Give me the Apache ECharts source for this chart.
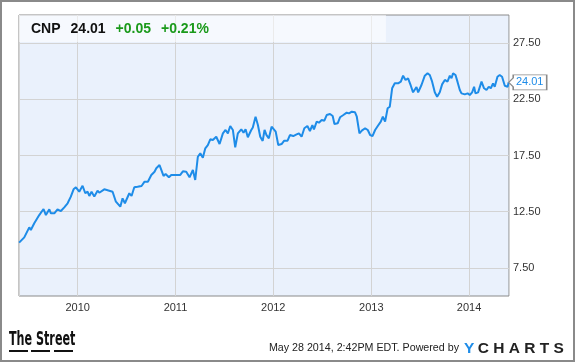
<!DOCTYPE html>
<html><head><meta charset="utf-8">
<style>html,body{margin:0;padding:0;background:#fff}#c{width:575px;height:362px}</style>
<script src="https://cdn.jsdelivr.net/npm/echarts@6/dist/echarts.min.js"></script>
</head><body><div id="c"></div>
<script>
// decimal-year positions and closing prices
const years = [2009.401,2009.454,2009.505,2009.521,2009.556,2009.607,2009.651,2009.675,2009.692,2009.710,2009.726,2009.761,2009.794,2009.828,2009.863,2009.897,2009.930,2009.958,2009.982,
2010.016,2010.050,2010.078,2010.101,2010.119,2010.142,2010.170,2010.203,2010.221,2010.272,2010.323,2010.357,2010.391,2010.408,2010.436,2010.459,2010.483,2010.528,2010.551,2010.579,2010.612,2010.653,2010.684,2010.718,2010.753,2010.786,2010.804,2010.837,2010.855,2010.878,2010.899,2010.933,2010.957,
2011.008,2011.049,2011.076,2011.110,2011.144,2011.178,2011.202,2011.229,2011.254,2011.280,2011.305,2011.331,2011.356,2011.382,2011.417,2011.451,2011.485,2011.512,2011.536,2011.560,2011.587,2011.611,2011.638,2011.673,2011.696,2011.717,2011.740,2011.775,2011.791,2011.819,2011.843,2011.867,2011.892,2011.911,2011.931,2011.955,2011.983,
2012.000,2012.025,2012.051,2012.085,2012.112,2012.146,2012.170,2012.204,2012.238,2012.262,2012.289,2012.317,2012.348,2012.374,2012.399,2012.415,2012.443,2012.466,2012.494,2012.521,2012.545,2012.579,2012.606,2012.624,2012.657,2012.681,2012.715,2012.749,2012.773,2012.801,2012.834,2012.852,2012.879,2012.903,2012.937,2012.964,2012.988,
2013.012,2013.039,2013.066,2013.097,2013.118,2013.141,2013.167,2013.189,2013.213,2013.240,2013.274,2013.302,2013.325,2013.350,2013.376,2013.404,2013.427,2013.445,2013.462,2013.479,2013.513,2013.547,2013.575,2013.598,2013.622,2013.649,2013.673,2013.700,2013.724,2013.752,2013.779,2013.803,2013.820,2013.836,2013.861,2013.881,2013.905,2013.922,2013.939,2013.956,2013.985,
2014.007,2014.031,2014.051,2014.065,2014.092,2014.127,2014.153,2014.178,2014.201,2014.222,2014.245,2014.262,2014.290,2014.313,2014.337,2014.365,2014.394,2014.405];
const prices = [9.75,10.22,11.11,10.87,11.47,12.20,12.74,12.20,12.30,12.71,12.36,12.36,12.71,12.56,12.89,13.25,13.84,14.49,14.67,
14.28,14.81,14.14,14.28,13.90,14.28,13.84,14.37,14.19,14.49,14.37,14.28,13.39,13.54,12.95,13.69,13.25,14.14,13.90,14.67,14.72,14.79,15.17,15.17,15.77,16.06,16.36,16.65,16.50,15.68,15.85,15.56,15.77,
15.77,15.77,16.09,16.06,15.56,16.21,15.32,17.39,17.69,17.30,18.14,18.43,18.94,18.88,19.17,18.52,19.47,19.77,19.47,20.12,19.77,18.23,19.47,19.83,19.53,19.83,19.12,19.77,20.00,20.95,20.21,19.17,18.80,19.77,19.32,19.03,20.06,
20.21,19.62,18.43,18.52,18.82,18.82,19.32,19.23,19.38,19.47,19.17,19.92,20.12,19.68,20.21,19.83,20.51,20.42,20.66,20.60,21.10,21.19,21.01,20.30,20.36,20.90,21.10,21.31,21.25,21.40,21.34,20.95,19.47,19.71,19.92,19.77,19.32,
19.23,19.77,20.12,20.51,20.95,20.51,21.70,21.84,23.48,23.92,23.92,24.07,24.60,24.22,24.37,23.71,23.12,23.18,23.59,23.12,23.77,24.60,24.81,24.66,24.07,23.12,22.73,23.12,23.83,24.22,24.07,24.60,24.37,24.81,24.66,24.07,23.33,23.03,23.18,22.94,23.03,
22.88,23.12,23.62,23.03,23.12,24.07,23.48,23.33,23.62,23.48,23.92,23.62,24.51,24.66,24.51,23.71,23.62,24.01];
const yTicks = [7.5, 12.5, 17.5, 22.5, 27.5];
const xRange = [2009.400, 2014.408];
const ticker = 'CNP', lastPrice = '24.01', change = '+0.05', changePct = '+0.21%';

function toTime(d){ const y=Math.floor(d); const s=Date.UTC(y,0,1), e=Date.UTC(y+1,0,1); return s+(d-y)*(e-s); }
const seriesData = years.map((y,i)=>[toTime(y), prices[i]]);
const last = seriesData[seriesData.length-1];
const FONT = 'Arial, "Liberation Sans", sans-serif';
const DAY = 86400000;

const chart = echarts.init(document.getElementById('c'), null, {renderer:'canvas'});
chart.setOption({
  animation:false,
  backgroundColor:'#fff',
  grid:{left:19, right:66, top:15, bottom:66, show:true, backgroundColor:'#eaf1fc', borderColor:'#8a8a8a', borderWidth:1},
  title:{left:31, top:20, padding:0,
    text:'{a|'+ticker+'}  {a|'+lastPrice+'}  {g|'+change+'}  {g|'+changePct+'}',
    textStyle:{rich:{
      a:{fontFamily:FONT, fontSize:14, fontWeight:'bold', color:'#111'},
      g:{fontFamily:FONT, fontSize:14, fontWeight:'bold', color:'#1b9a1b'}
    }}},
  xAxis:{type:'time', min:toTime(xRange[0]), max:toTime(xRange[1]),
    minInterval:365*DAY, maxInterval:366*DAY,
    axisLine:{show:false}, axisTick:{show:false},
    splitLine:{show:true, lineStyle:{color:'#d3d3d3', width:1}},
    axisLabel:{formatter:'{yyyy}', color:'#333', fontFamily:FONT, fontSize:11, margin:6, showMinLabel:false, showMaxLabel:false}
  },
  yAxis:{type:'value', position:'right', min:5, max:30, interval:2.5,
    axisLine:{show:false}, axisTick:{show:false, customValues:yTicks},
    splitLine:{show:true, lineStyle:{color:'#d3d3d3', width:1}},
    axisLabel:{customValues:yTicks, formatter:v=>v.toFixed(2), color:'#333', fontFamily:FONT, fontSize:11, margin:4}
  },
  series:[{type:'line', data:seriesData, showSymbol:false, symbol:'none',
    lineStyle:{color:'#1e8ce8', width:2}, itemStyle:{color:'#1e8ce8'}, clip:false,
    markArea:{silent:true, itemStyle:{color:'rgba(255,255,255,0.55)'},
      data:[[{coord:[toTime(xRange[0]), 30]},{coord:[toTime(2013.15), 27.6]}]]},
    markPoint:{silent:true,
      data:[{coord:last, value:last[1]}],
      symbol:'path://M0,7.5 L4.5,3 L4.5,0 L38,0 L38,15 L4.5,15 L4.5,12 Z',
      symbolSize:[38,15], symbolKeepAspect:false, symbolOffset:['50%',0],
      itemStyle:{color:'#fff', borderColor:'#8a8a8a', borderWidth:1},
      label:{show:true, position:'inside', offset:[2,0], formatter:lastPrice, color:'#1e8ce8', fontFamily:FONT, fontSize:11}
    }
  }],
  graphic:[
    {type:'rect', shape:{x:1, y:1, width:573, height:360}, style:{fill:'none', stroke:'#8a8a8a', lineWidth:2}, silent:true},
    {type:'text', x:9, y:330, scaleX:0.62, style:{text:'The Street', fontFamily:'"Liberation Sans Narrow", "DejaVu Sans Condensed", Arial', fontWeight:'bold', fontSize:20, fill:'#111'}},
    {type:'rect', shape:{x:9, y:350, width:19, height:2}, style:{fill:'#111'}},
    {type:'rect', shape:{x:31, y:350, width:19, height:2}, style:{fill:'#111'}},
    {type:'rect', shape:{x:54, y:350, width:19, height:2}, style:{fill:'#111'}},
    {type:'text', x:459, y:343, style:{text:'May 28 2014, 2:42PM EDT. Powered by', align:'right', fontFamily:FONT, fontSize:10.7, fill:'#222'}},
    {type:'text', x:464, y:341, style:{text:'{y|Y} {c|C H A R T S}', rich:{
      y:{fontFamily:FONT, fontWeight:'bold', fontSize:15.5, fill:'#1e8ce8', color:'#1e8ce8'},
      c:{fontFamily:FONT, fontWeight:'bold', fontSize:15.5, fill:'#222', color:'#222'}}}}
  ]
});
</script></body></html>
